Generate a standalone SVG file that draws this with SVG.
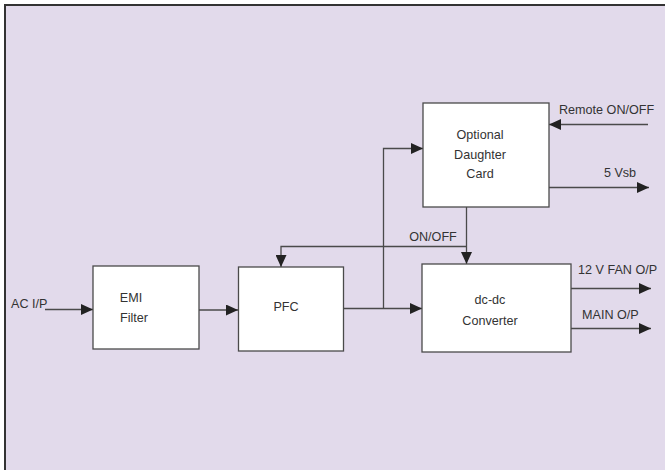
<svg xmlns="http://www.w3.org/2000/svg" width="665" height="470" viewBox="0 0 665 470">
<style>
.box{fill:#fff;stroke:#4a4a4a;stroke-width:1.3}
.ln{fill:none;stroke:#4a4a4a;stroke-width:1.3}
.t{font-family:"Liberation Sans",Arial,sans-serif;font-size:12.6px;fill:#333}
.c{text-anchor:middle}
</style>
<defs>
<marker id="ah" markerUnits="userSpaceOnUse" markerWidth="12" markerHeight="11" refX="12" refY="5.5" orient="auto">
<path d="M0,0 L12,5.5 L0,11 z" fill="#222"/>
</marker>
</defs>
<rect x="0" y="0" width="665" height="470" fill="#fff"/>
<rect x="5" y="5" width="660" height="465" fill="#E2DAEB"/>
<path d="M5,470 V5 H665" fill="none" stroke="#333" stroke-width="2"/>
<g id="connectors">
<line class="ln" x1="45" y1="309.5" x2="93" y2="309.5" marker-end="url(#ah)"/>
<line class="ln" x1="199" y1="310" x2="238" y2="310" marker-end="url(#ah)"/>
<line class="ln" x1="343" y1="308.5" x2="422" y2="308.5" marker-end="url(#ah)"/>
<polyline class="ln" points="383.5,308.5 383.5,148.5 423,148.5" marker-end="url(#ah)"/>
<line class="ln" x1="648" y1="124.5" x2="549" y2="124.5" marker-end="url(#ah)"/>
<line class="ln" x1="549" y1="187.5" x2="649" y2="187.5" marker-end="url(#ah)"/>
<line class="ln" x1="466.5" y1="207" x2="466.5" y2="264" marker-end="url(#ah)"/>
<polyline class="ln" points="466.5,246.5 281,246.5 281,267" marker-end="url(#ah)"/>
<line class="ln" x1="571" y1="288.5" x2="651" y2="288.5" marker-end="url(#ah)"/>
<line class="ln" x1="571" y1="328.5" x2="651" y2="328.5" marker-end="url(#ah)"/>
</g>
<g id="labels">
<text class="t" x="11" y="308">AC I/P</text>
<text class="t" x="559" y="114">Remote ON/OFF</text>
<text class="t c" x="620" y="177">5 Vsb</text>
<text class="t c" x="433" y="241">ON/OFF</text>
<text class="t" x="578" y="274">12 V FAN O/P</text>
<text class="t" x="582" y="319">MAIN O/P</text>
</g>
<g id="emi">
<rect class="box" x="93" y="266" width="106" height="83"/>
<text class="t c" x="131" y="302">EMI</text>
<text class="t c" x="134" y="322">Filter</text>
</g>
<g id="pfc">
<rect class="box" x="238.5" y="267" width="105" height="84"/>
<text class="t c" x="286" y="311">PFC</text>
</g>
<g id="daughter">
<rect class="box" x="423" y="103" width="126" height="104"/>
<text class="t c" x="480" y="139">Optional</text>
<text class="t c" x="480" y="159">Daughter</text>
<text class="t c" x="480" y="178">Card</text>
</g>
<g id="dcdc">
<rect class="box" x="422" y="264" width="149" height="88"/>
<text class="t c" x="490" y="304">dc-dc</text>
<text class="t c" x="490" y="325">Converter</text>
</g>
</svg>
